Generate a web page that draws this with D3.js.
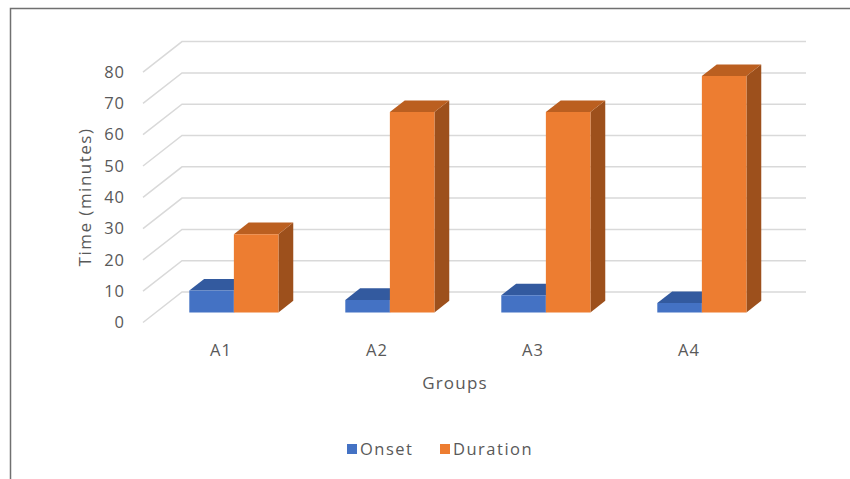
<!DOCTYPE html>
<html>
<head>
<meta charset="utf-8">
<script src="https://cdn.jsdelivr.net/npm/d3@7/dist/d3.min.js"></script>
<style>
  html, body { margin: 0; padding: 0; background: #fff; }
  svg { display: block; font-family: "Open Sans", "Noto Sans", sans-serif; }
</style>
</head>
<body>
<svg width="850" height="479"></svg>
<script>
// данные графика
const groups = ["A1", "A2", "A3", "A4"];
const seriesNames = ["Onset", "Duration"];
const onset = [7, 4, 5.5, 3];
const duration = [25, 64, 64, 75.5];
const yTicks = [0, 10, 20, 30, 40, 50, 60, 70, 80];

const colors = {
    Onset:    { front: "#4472c4", top: "#335a9f", side: "#2c4f8e" },
    Duration: { front: "#ed7d31", top: "#bb5f20", side: "#9d501c" }
};

const svg = d3.select("svg");

// параметры области: передний угол пола и вектор глубины
const area = { x0: 143, y0: 322.5, width: 624, depthX: 39, depthY: -30.5 };

const scX = d3.scaleBand().domain(groups).range([0, area.width]);
const scSub = d3.scaleBand().domain(seriesNames).range([0, scX.bandwidth()])
    .paddingInner(0).paddingOuter(0.75);
const scY = d3.scaleLinear().domain([0, 80]).range([0, 250.4]);

// проекция: x вдоль пола, v значение, d глубина (0..1)
function proj(x, v, d) {
    return [area.x0 + x + d * area.depthX, area.y0 - scY(v) + d * area.depthY];
}

// рамка
svg.append("path")
    .attr("d", "M10.5,479 L10.5,8.5 L850,8.5")
    .attr("fill", "none")
    .attr("stroke", "#707070")
    .attr("stroke-width", 1.5);

// сетка: задняя стенка + диагонали по левой стороне
const grid = svg.append("g").attr("stroke", "#d9d9d9").attr("stroke-width", 1.5).attr("fill", "none");
yTicks.forEach(t => {
    const a = proj(0, t, 0), b = proj(0, t, 1), c = proj(area.width, t, 1);
    grid.append("path").attr("d", `M${a[0]},${a[1]} L${b[0]},${b[1]} L${c[0]},${c[1]}`);
});

// подписи оси Y
svg.append("g").selectAll("text")
    .data(yTicks)
    .enter()
    .append("text")
    .attr("x", 125)
    .attr("y", d => proj(0, d, 0)[1])
    .attr("dy", "0.35em")
    .attr("text-anchor", "end")
    .attr("fill", "#595959")
    .style("font-size", "16.5px")
    .style("letter-spacing", "1px")
    .text(d => d);

// столбцы
const d1 = 0.33, d2 = 0.71;
const bars = [];
groups.forEach((g, i) => {
    bars.push({ group: g, series: "Onset", value: onset[i] });
    bars.push({ group: g, series: "Duration", value: duration[i] });
});

const poly = pts => "M" + pts.map(p => p.join(",")).join("L") + "Z";

bars.forEach(d => {
    const xl = scX(d.group) + scSub(d.series);
    const xr = xl + scSub.bandwidth();
    const c = colors[d.series];
    const g = svg.append("g");
    // правая грань
    g.append("path")
        .attr("d", poly([proj(xr, 0, d1), proj(xr, 0, d2), proj(xr, d.value, d2), proj(xr, d.value, d1)]))
        .attr("fill", c.side);
    // верх
    g.append("path")
        .attr("d", poly([proj(xl, d.value, d1), proj(xr, d.value, d1), proj(xr, d.value, d2), proj(xl, d.value, d2)]))
        .attr("fill", c.top);
    // передняя грань
    g.append("path")
        .attr("d", poly([proj(xl, 0, d1), proj(xr, 0, d1), proj(xr, d.value, d1), proj(xl, d.value, d1)]))
        .attr("fill", c.front);
});

// подписи категорий
svg.append("g").selectAll("text")
    .data(groups)
    .enter()
    .append("text")
    .attr("x", d => area.x0 + scX(d) + scX.bandwidth() / 2)
    .attr("y", 350)
    .attr("dy", "0.35em")
    .attr("text-anchor", "middle")
    .attr("fill", "#595959")
    .style("font-size", "16.5px")
    .style("letter-spacing", "1px")
    .text(d => d);

// заголовки осей
svg.append("text")
    .attr("x", 455)
    .attr("y", 383)
    .attr("dy", "0.35em")
    .attr("text-anchor", "middle")
    .attr("fill", "#595959")
    .style("font-size", "17px")
    .style("letter-spacing", "1.2px")
    .text("Groups");

svg.append("text")
    .attr("transform", "translate(85,197) rotate(-90)")
    .attr("dy", "0.35em")
    .attr("text-anchor", "middle")
    .attr("fill", "#595959")
    .style("font-size", "17px")
    .style("letter-spacing", "1.5px")
    .text("Time (minutes)");

// легенда
const legend = svg.append("g");
const legItems = [{ name: "Onset", x: 347 }, { name: "Duration", x: 440 }];
legItems.forEach(it => {
    legend.append("rect")
        .attr("x", it.x).attr("y", 444)
        .attr("width", 10).attr("height", 10)
        .attr("fill", colors[it.name].front);
    legend.append("text")
        .attr("x", it.x + 13)
        .attr("y", 449)
        .attr("dy", "0.35em")
        .attr("fill", "#595959")
        .style("font-size", "16.5px")
        .style("letter-spacing", "1.5px")
        .text(it.name);
});
</script>
</body>
</html>
